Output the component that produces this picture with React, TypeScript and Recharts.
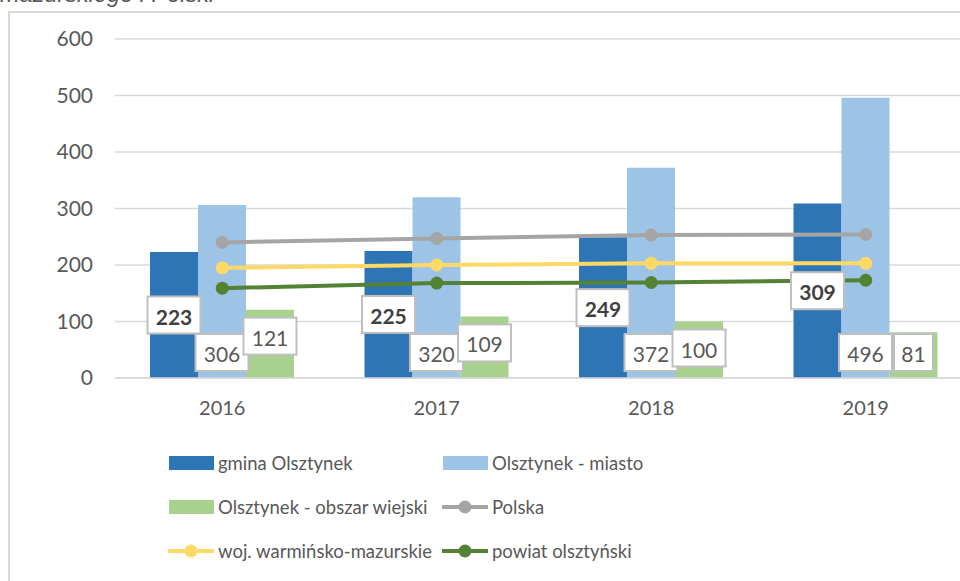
import React from 'react';
import {
  ComposedChart,
  Bar,
  Line,
  XAxis,
  YAxis,
  CartesianGrid,
  Legend,
  LabelList,
} from 'recharts';

// Years on the category axis
const years = ['2016', '2017', '2018', '2019'];

// Bar series
const gminaOlsztynek = [223, 225, 249, 309];
const olsztynekMiasto = [306, 320, 372, 496];
const olsztynekWies = [121, 109, 100, 81];

// Line series
const polska = [240, 247, 253, 254];
const wojewodztwo = [195, 200, 203, 203];
const powiat = [159, 168, 169, 173];

const yTicks = [0, 100, 200, 300, 400, 500, 600];

const NAMES = {
  gmina: 'gmina Olsztynek',
  miasto: 'Olsztynek - miasto',
  wies: 'Olsztynek - obszar wiejski',
  polska: 'Polska',
  woj: 'woj. warmińsko-mazurskie',
  powiat: 'powiat olsztyński',
};

const COLORS = {
  gmina: '#2E75B6',
  miasto: '#9DC3E6',
  wies: '#A9D18E',
  polska: '#A5A5A5',
  woj: '#FFD966',
  powiat: '#548235',
};

const data = years.map((year, i) => ({
  year,
  gmina: gminaOlsztynek[i],
  miasto: olsztynekMiasto[i],
  wies: olsztynekWies[i],
  polska: polska[i],
  woj: wojewodztwo[i],
  powiat: powiat[i],
}));

const FONT = 'Lato, "Liberation Sans", Arial, sans-serif';
const TEXT = '#595959';

type Placement = 'center' | 'base' | 'end';

// Boxed callout label drawn over a bar
const makeCallout = (placement: Placement, bold: boolean) => (props: any) => {
  const { x, y, width, height, value } = props;
  const label = String(value);
  const boxW = label.length * 14 + 11;
  const boxH = 37;
  const cx = Number(x) + Number(width) / 2;
  const top = Number(y);
  const base = Number(y) + Number(height);
  let cy: number;
  if (placement === 'center') {
    cy = top + Number(height) / 2;
  } else if (placement === 'base') {
    cy = base - 7 - boxH / 2;
  } else {
    cy = Math.min(top + 8 + boxH / 2, base - 7 - boxH / 2);
  }
  return (
    <g>
      <rect
        x={cx - boxW / 2}
        y={cy - boxH / 2}
        width={boxW}
        height={boxH}
        fill="#ffffff"
        stroke="#BFBFBF"
        strokeWidth={2}
      />
      <text
        x={cx}
        y={cy + 1}
        textAnchor="middle"
        dominantBaseline="central"
        fontFamily={FONT}
        fontSize={21}
        fontWeight={bold ? 700 : 400}
        fill={bold ? '#404040' : TEXT}
      >
        {label}
      </text>
    </g>
  );
};

const legendOrder: (keyof typeof NAMES)[] = ['gmina', 'miasto', 'wies', 'polska', 'woj', 'powiat'];
const barKeys = new Set(['gmina', 'miasto', 'wies']);

const LegendContent = (props: any) => {
  const payload: any[] = props.payload ?? [];
  return (
    <div style={{ position: 'relative', width: 700, height: 130 }}>
      {legendOrder.map((key, i) => {
        const item = payload.find((p) => p.dataKey === key || p.value === NAMES[key]);
        const color = item?.color ?? COLORS[key];
        const col = i % 2;
        const row = Math.floor(i / 2);
        const left = col === 0 ? 0 : 274;
        const cy = 23 + row * 44;
        const isBar = barKeys.has(key);
        return (
          <div
            key={key}
            style={{
              position: 'absolute',
              left,
              top: cy - 14,
              height: 28,
              display: 'flex',
              alignItems: 'center',
              whiteSpace: 'nowrap',
            }}
          >
            <svg width={47} height={28} style={{ display: 'block' }}>
              {isBar ? (
                <rect x={1} y={7} width={45} height={14} fill={color} />
              ) : (
                <g>
                  <line x1={0} y1={14} x2={46} y2={14} stroke={color} strokeWidth={4} />
                  <circle cx={23} cy={14} r={6.5} fill={color} />
                </g>
              )}
            </svg>
            <span
              style={{
                marginLeft: 3,
                fontFamily: FONT,
                fontSize: 18.5,
                color: TEXT,
              }}
            >
              {item?.value ?? NAMES[key]}
            </span>
          </div>
        );
      })}
    </div>
  );
};

export default function App() {
  return (
    <div
      style={{
        position: 'absolute',
        left: 0,
        top: 0,
        width: 960,
        height: 581,
        overflow: 'hidden',
        background: '#ffffff',
      }}
    >
      <div
        style={{
          position: 'absolute',
          left: 0,
          top: -17,
          fontFamily: '"Liberation Sans", Arial, sans-serif',
          fontStyle: 'italic',
          fontSize: 23.5,
          lineHeight: '23.5px',
          color: TEXT,
          whiteSpace: 'nowrap',
        }}
      >
        mazurskiego i Polski
      </div>
      <div
        style={{
          position: 'absolute',
          left: 8,
          top: 11,
          width: 1000,
          height: 700,
          border: '2px solid #D9D9D9',
          boxSizing: 'border-box',
        }}
      />
      <div style={{ position: 'absolute', left: 0, top: 0 }}>
        <ComposedChart
          width={990}
          height={581}
          data={data}
          margin={{ top: 39, right: 17, bottom: 173, left: 0 }}
          barSize={48}
          barGap={0}
        >
          <CartesianGrid vertical={false} stroke="#D9D9D9" strokeWidth={1.5} />
          <XAxis
            dataKey="year"
            height={30}
            axisLine={{ stroke: '#D9D9D9', strokeWidth: 1.5 }}
            tickLine={false}
            tickSize={0}
            tickMargin={23}
            tick={{ fontFamily: FONT, fontSize: 20, fill: TEXT }}
          />
          <YAxis
            width={115}
            domain={[0, 600]}
            ticks={yTicks}
            axisLine={false}
            tickLine={false}
            tickSize={0}
            tickMargin={22}
            tick={{ fontFamily: FONT, fontSize: 21, fill: TEXT }}
          />
          <Bar dataKey="gmina" name={NAMES.gmina} fill={COLORS.gmina} isAnimationActive={false}>
            <LabelList dataKey="gmina" content={makeCallout('center', true)} />
          </Bar>
          <Bar dataKey="miasto" name={NAMES.miasto} fill={COLORS.miasto} isAnimationActive={false}>
            <LabelList dataKey="miasto" content={makeCallout('base', false)} />
          </Bar>
          <Bar dataKey="wies" name={NAMES.wies} fill={COLORS.wies} isAnimationActive={false}>
            <LabelList dataKey="wies" content={makeCallout('end', false)} />
          </Bar>
          <Line
            dataKey="polska"
            name={NAMES.polska}
            stroke={COLORS.polska}
            strokeWidth={4}
            dot={{ r: 6.5, fill: COLORS.polska, stroke: COLORS.polska, strokeWidth: 0 }}
            activeDot={false}
            isAnimationActive={false}
          />
          <Line
            dataKey="woj"
            name={NAMES.woj}
            stroke={COLORS.woj}
            strokeWidth={4}
            dot={{ r: 6.5, fill: COLORS.woj, stroke: COLORS.woj, strokeWidth: 0 }}
            activeDot={false}
            isAnimationActive={false}
          />
          <Line
            dataKey="powiat"
            name={NAMES.powiat}
            stroke={COLORS.powiat}
            strokeWidth={4}
            dot={{ r: 6.5, fill: COLORS.powiat, stroke: COLORS.powiat, strokeWidth: 0 }}
            activeDot={false}
            isAnimationActive={false}
          />
          <Legend
            layout="horizontal"
            verticalAlign="middle"
            align="center"
            content={<LegendContent />}
            wrapperStyle={{ left: 168, top: 440, width: 700, height: 130 }}
          />
        </ComposedChart>
      </div>
    </div>
  );
}
